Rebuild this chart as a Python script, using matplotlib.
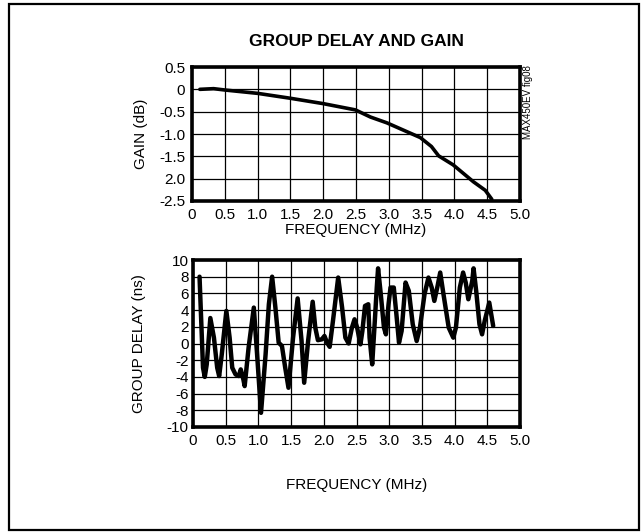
import matplotlib
matplotlib.use("Agg")
import matplotlib.pyplot as plt
from matplotlib.patches import Rectangle

plt.rcParams['font.family'] = ['Liberation Sans Narrow', 'Liberation Sans', 'DejaVu Sans']

# gain vs frequency
gain_freq = [0.12, 0.33, 0.5, 1.0, 1.5, 2.0, 2.49, 2.72, 2.97, 3.48, 3.65, 3.76, 3.98, 4.29, 4.47, 4.57]
gain_db = [0.0, 0.015, -0.015, -0.09, -0.2, -0.32, -0.46, -0.62, -0.75, -1.08, -1.28, -1.49, -1.69, -2.07, -2.26, -2.46]

# group delay vs frequency
gd_freq = [0.10, 0.153, 0.18, 0.21, 0.265, 0.32, 0.37, 0.40, 0.44, 0.51, 0.56, 0.60, 0.65, 0.70, 0.73,
           0.77, 0.79, 0.85, 0.93, 0.98, 1.04, 1.11, 1.16, 1.21, 1.26, 1.31, 1.36, 1.41, 1.46, 1.53,
           1.60, 1.66, 1.70, 1.76, 1.83, 1.87, 1.91, 1.97, 2.01, 2.05, 2.09, 2.14, 2.22, 2.28, 2.33,
           2.38, 2.43, 2.47, 2.51, 2.54, 2.56, 2.59, 2.63, 2.68, 2.70, 2.74, 2.78, 2.81, 2.83, 2.87,
           2.92, 2.95, 2.99, 3.02, 3.07, 3.11, 3.15, 3.19, 3.25, 3.30, 3.36, 3.42, 3.47, 3.54, 3.60,
           3.65, 3.69, 3.74, 3.78, 3.83, 3.91, 3.98, 4.02, 4.08, 4.13, 4.17, 4.21, 4.27, 4.29, 4.33,
           4.38, 4.42, 4.46, 4.53, 4.59]
gd_ns = [8.0, -2.9, -4.0, -2.5, 3.05, 0.7, -2.9, -3.9, -1.3, 3.9, 0.7, -2.9, -3.7, -3.9, -3.1,
         -4.3, -5.1, -0.5, 4.3, -1.3, -8.3, -1.3, 4.7, 8.0, 4.3, 0.1, -0.3, -2.9, -5.3, 0.7,
         5.4, 0.3, -4.7, 0.3, 5.0, 1.9, 0.4, 0.5, 0.9, 0.1, -0.4, 2.7, 7.9, 4.3, 0.7,
         0.0, 1.9, 2.9, 1.9, 0.7, -0.1, 1.5, 4.5, 4.7, 0.7, -2.5, 2.7, 6.7, 9.0, 6.0,
         1.9, 1.1, 4.7, 6.7, 6.7, 3.5, 0.1, 1.5, 7.3, 6.3, 2.3, 0.3, 1.9, 5.9, 7.9,
         6.7, 5.1, 6.9, 8.5, 5.9, 1.9, 0.7, 1.9, 6.7, 8.5, 7.3, 5.3, 7.5, 9.0, 6.3,
         2.3, 1.1, 2.7, 4.9, 2.1]

x_ticks = [0, 0.5, 1.0, 1.5, 2.0, 2.5, 3.0, 3.5, 4.0, 4.5, 5.0]
x_labels = ["0", "0.5", "1.0", "1.5", "2.0", "2.5", "3.0", "3.5", "4.0", "4.5", "5.0"]
gain_ticks = [0.5, 0, -0.5, -1.0, -1.5, -2.0, -2.5]
gain_labels = ["0.5", "0", "-0.5", "-1.0", "-1.5", "2.0", "-2.5"]
gd_ticks = [10, 8, 6, 4, 2, 0, -2, -4, -6, -8, -10]
gd_labels = ["10", "8", "6", "4", "2", "0", "-2", "-4", "-6", "-8", "-10"]

W, H = 643, 532
fig = plt.figure(figsize=(W / 100, H / 100), dpi=100)

# outer frame
fig.patches.append(Rectangle((9 / W, 1 - 530 / H), 630 / W, 526 / H, transform=fig.transFigure,
                             fill=False, edgecolor="black", linewidth=1.6))


def style(ax, yticks, ylabels):
    ax.set_xlim(0, 5)
    ax.set_xticks(x_ticks)
    ax.set_xticklabels(x_labels)
    ax.set_yticks(yticks)
    ax.set_yticklabels(ylabels)
    ax.tick_params(length=0, labelsize=11, pad=5)
    ax.grid(True, color="black", linewidth=0.9)
    ax.set_axisbelow(True)
    for s in ax.spines.values():
        s.set_linewidth(2.6)


ax1 = fig.add_axes([192 / W, 1 - 201 / H, 328 / W, 134 / H])
ax1.plot(gain_freq, gain_db, color="black", linewidth=2.6, solid_capstyle="round")
ax1.set_ylim(-2.5, 0.5)
style(ax1, gain_ticks, gain_labels)
ax1.set_xlabel("FREQUENCY (MHz)", fontsize=11, labelpad=1)
ax1.set_ylabel("GAIN (dB)", fontsize=11, labelpad=8)

ax2 = fig.add_axes([193 / W, 1 - 427 / H, 327 / W, 167 / H])
ax2.plot(gd_freq, gd_ns, color="black", linewidth=3.2, solid_joinstyle="round",
         solid_capstyle="round")
ax2.set_ylim(-10, 10)
style(ax2, gd_ticks, gd_labels)
ax2.tick_params(axis="y", pad=3)
ax2.set_xlabel("FREQUENCY (MHz)", fontsize=11, labelpad=22)
ax2.set_ylabel("GROUP DELAY (ns)", fontsize=11, labelpad=15)

fig.text(356 / W, 1 - 42 / H, "GROUP DELAY AND GAIN", ha="center", va="center",
         fontsize=12.5, fontweight="bold")
fig.text(528 / W, 1 - 102 / H, "MAX450EV fig08", rotation=90, ha="center", va="center",
         fontsize=7)

fig.savefig("out.png", dpi=100)
